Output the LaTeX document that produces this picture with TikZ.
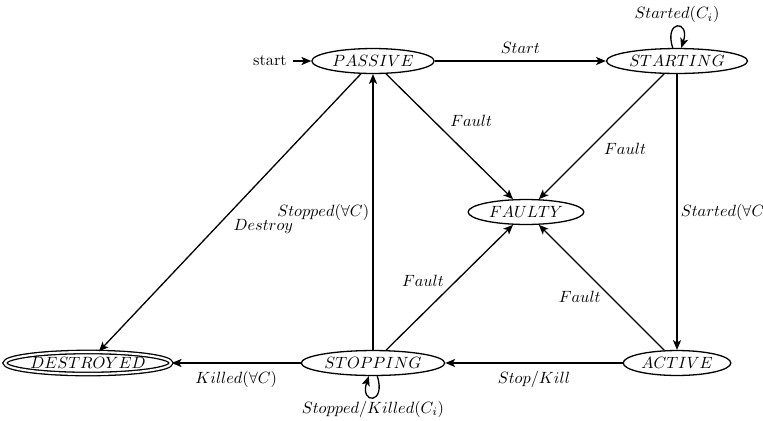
\documentclass[tikz,border=0pt]{standalone}
\usetikzlibrary{shapes.geometric,arrows.meta}
\begin{document}
\begin{tikzpicture}[x=0.6135pt,y=-0.6135pt,
  >={Stealth[length=6pt,width=5pt,inset=1.5pt]},
  every path/.style={thick},
  stt/.style={draw,ellipse,inner sep=0pt,minimum height=15.3pt},
  lbl/.style={inner sep=2pt},
  lblb/.style={inner sep=4.5pt},
  selfloopA/.style={out=108,in=72,min distance=16pt,looseness=9},
  selfloopB/.style={out=288,in=252,min distance=15pt,looseness=9}]
\useasboundingbox (0,0) rectangle (763,420);
\node[stt,minimum width=75pt] (passive) at (373,61) {$PASSIVE$};
\node[stt,minimum width=86.5pt] (starting) at (677,61) {$STARTING$};
\node[stt,minimum width=71pt] (faulty) at (526,212) {$FAULTY$};
\node[stt,minimum width=102pt,minimum height=13.5pt,double,double distance=1.3pt] (destroyed) at (88,363) {$DESTROYED$};
\node[stt,minimum width=88pt] (stopping) at (373,363) {$STOPPING$};
\node[stt,minimum width=66pt] (active) at (677,363) {$ACTIVE$};
\node (startlbl) at (270,61) {start};
\draw[->] (startlbl) -- (passive);
\draw[->] (passive) -- node[inner sep=4.5pt,above] {$Start$} (starting);
\draw[->] (passive) -- node[lbl,above right,pos=0.45,xshift=2pt] {$Fault$} (faulty);
\draw[->] (passive) -- node[lbl,right,pos=0.55,xshift=8pt] {$Destroy$} (destroyed);
\draw[->] (stopping) -- node[lbl,left] {$Stopped(\forall C)$} (passive);
\draw[->] (starting) -- node[lbl,right,pos=0.6,xshift=7pt] {$Fault$} (faulty);
\draw[->] (starting) -- node[lbl,right] {$Started(\forall C)$} (active);
\draw[->] (starting) edge[loop,selfloopA] node[lbl,above] {$Started(C_i)$} (starting);
\draw[->] (stopping) -- node[lbl,left,pos=0.55,xshift=-5pt] {$Fault$} (faulty);
\draw[->] (active) -- node[lbl,left,pos=0.45,xshift=-2pt,yshift=-2pt] {$Fault$} (faulty);
\draw[->] (active) -- node[lblb,below] {$Stop/Kill$} (stopping);
\draw[->] (stopping) -- node[lblb,below] {$Killed(\forall C)$} (destroyed);
\draw[->] (stopping) edge[loop,selfloopB] node[lbl,below] {$Stopped/Killed(C_i)$} (stopping);
\end{tikzpicture}
\end{document}
